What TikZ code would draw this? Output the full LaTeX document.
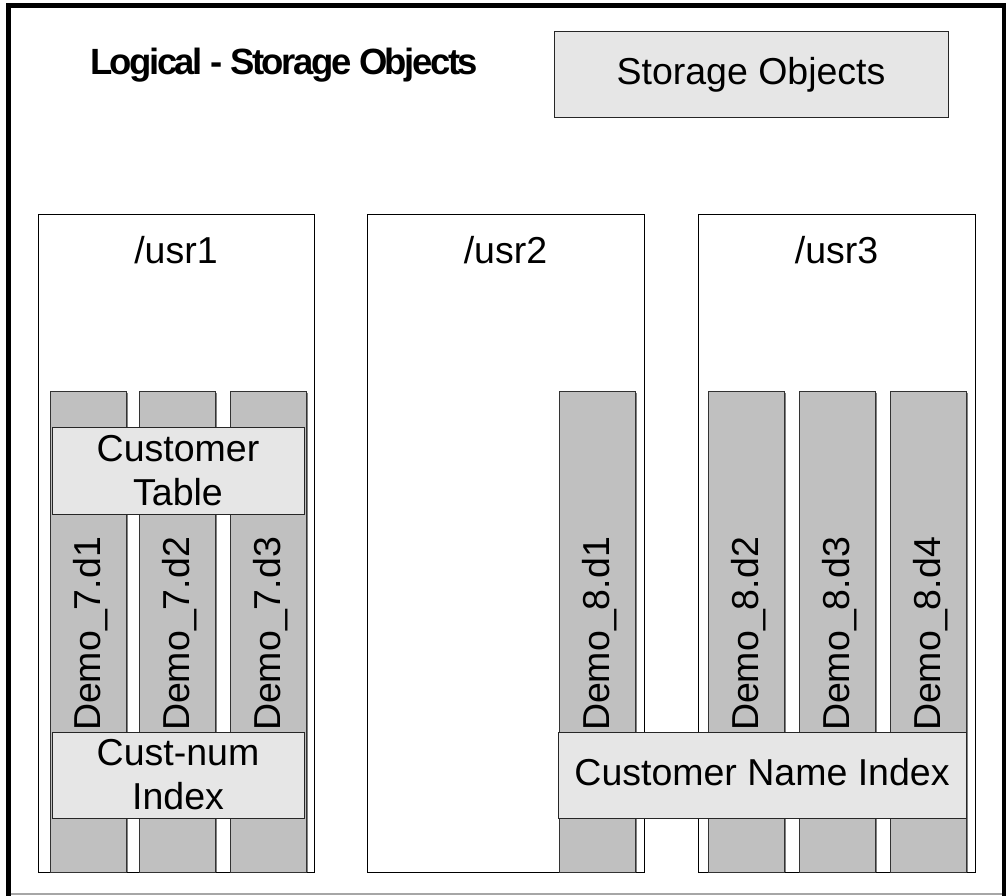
\documentclass[tikz,border=0pt]{standalone}
\usepackage{fontspec}
\setmainfont{Liberation Sans}
\newfontfamily\titlefont[LetterSpace=-6.8]{Liberation Sans}
\definecolor{colgray}{HTML}{C0C0C0}
\definecolor{idxgray}{HTML}{E6E6E6}
\definecolor{shadowgray}{HTML}{808080}
\begin{document}
\begin{tikzpicture}[x=1pt,y=-1pt,
  usrbox/.style={draw=black, line width=1pt, fill=white, minimum height=658pt,
    inner sep=0pt, outer sep=0pt},
  column/.style={draw=black!80, line width=1pt, fill=colgray, minimum width=76pt,
    minimum height=481pt, inner sep=0pt, outer sep=0pt},
  idxbox/.style={draw=black!85, line width=1pt, fill=idxgray, inner sep=0pt,
    outer sep=0pt, font=\fontsize{37.5}{44}\selectfont, align=center},
  oneline/.style={text height=27pt, text depth=7pt},
  txt/.style={font=\fontsize{37.5}{44}\selectfont, inner sep=0pt},
  dlabel/.style={txt, rotate=90, anchor=base}]

\useasboundingbox (0,0) rectangle (1006,895);

% page frame
\draw[line width=5pt, line join=miter] (8,900) -- (8,5.5) -- (1004.5,5.5) -- (1004.5,900);
\draw[shadowgray!70, line width=1.2pt] (10.5,894) -- (1002,894);

% title and legend
\node[anchor=base, inner sep=0pt, font=\titlefont\bfseries\fontsize{36.5}{40}\selectfont]
  (title) at (284,74) {Logical - Storage Objects};
\node[idxbox, oneline, minimum width=394pt, minimum height=86pt]
  (legend) at (751,74) {Storage Objects};

% file systems
\node[usrbox, minimum width=276pt] (usr1) at (176,543) {};
\node[usrbox, minimum width=277pt] (usr2) at (505.5,543) {};
\node[usrbox, minimum width=277pt] (usr3) at (836.5,543) {};
\node[txt, anchor=base] (usr1L) at (176,263) {/usr1};
\node[txt, anchor=base] (usr2L) at (505.5,263) {/usr2};
\node[txt, anchor=base] (usr3L) at (836.5,263) {/usr3};

% data extents
\foreach \name/\cx/\lab in {d71/88/Demo\_7.d1, d72/177/Demo\_7.d2, d73/268/Demo\_7.d3,
    d81/597/Demo\_8.d1, d82/746/Demo\_8.d2, d83/837/Demo\_8.d3, d84/928/Demo\_8.d4}{
  \node[column] (\name) at (\cx,631.5) {};
  \draw[shadowgray, line width=1.5pt]
    ([xshift=1.5pt,yshift=-1.5pt]\name.north east) -- ([xshift=1.5pt]\name.south east);
  \node[dlabel] (\name L) at (\cx+12,634) {\lab};
}

% storage objects
\node[idxbox, minimum width=252pt, minimum height=87pt] (custtable) at (178,470.5)
  {Customer\\Table};
\node[idxbox, minimum width=252pt, minimum height=86pt] (custnum) at (178,775)
  {Cust-num\\Index};
\node[idxbox, oneline, minimum width=408pt, minimum height=86pt] (custname) at (762,775)
  {Customer Name Index};
\end{tikzpicture}
\end{document}
